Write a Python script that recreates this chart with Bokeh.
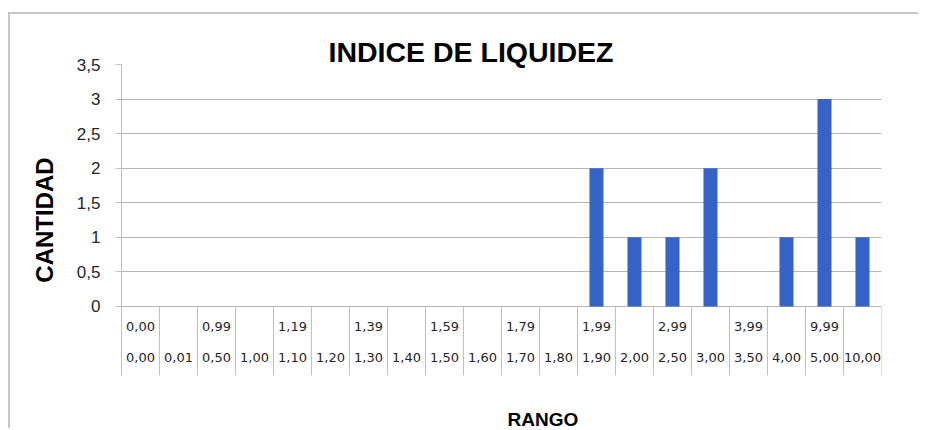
from bokeh.plotting import figure
from bokeh.models import FactorRange, Range1d, FixedTicker, ColumnDataSource, Title
from bokeh.transform import dodge
from bokeh.core.properties import value
from bokeh.embed import file_html
from bokeh.resources import INLINE

# ---- data ----
rango_inf = ["0,00", "0,01", "0,50", "1,00", "1,10", "1,20", "1,30", "1,40", "1,50", "1,60",
             "1,70", "1,80", "1,90", "2,00", "2,50", "3,00", "3,50", "4,00", "5,00", "10,00"]
rango_sup = ["0,00", "", "0,99", "", "1,19", "", "1,39", "", "1,59", "",
             "1,79", "", "1,99", "", "2,99", "", "3,99", "", "9,99", ""]
cantidad = [0, 0, 0, 0, 0, 0, 0, 0, 0, 0, 0, 0, 2, 1, 1, 2, 0, 1, 3, 1]
y_ticks = [0, 0.5, 1, 1.5, 2, 2.5, 3, 3.5]
y_tick_labels = ["0", "0,5", "1", "1,5", "2", "2,5", "3", "3,5"]

title_text = "INDICE DE LIQUIDEZ"
x_title = "RANGO"
y_title = "CANTIDAD"

src = ColumnDataSource(dict(x=rango_inf, y=cantidad, sup=rango_sup))
last_src = ColumnDataSource(dict(x=rango_inf[-1:]))

p = figure(x_range=FactorRange(factors=rango_inf), y_range=Range1d(-1.0, 3.5),
           width=910, height=416, output_backend="svg", toolbar_location=None,
           min_border_left=111, min_border_right=39, min_border_top=50, min_border_bottom=55)
p.styles = {"border-top": "2px solid #c8c8c8", "border-left": "2px solid #c8c8c8",
            "margin-top": "12px", "margin-left": "8px"}
p.outline_line_color = None
p.background_fill_color = "white"
p.border_fill_color = "white"

# title
p.title.text = title_text
p.title.text_font = "Liberation Sans"
p.title.text_font_style = "bold"
p.title.text_font_size = "28.5px"
p.title.text_color = "black"
p.title.align = "left"
p.title.offset = 207
p.title.standoff = -6

# bars
p.vbar(x="x", top="y", width=0.37, source=src, fill_color="#3763c6", line_color=None)

# label table separators
p.segment(x0=dodge("x", -0.5, range=p.x_range), y0=-1.0, x1=dodge("x", -0.5, range=p.x_range), y1=0,
          source=src, line_color="#bfbfbf", line_width=1)
p.segment(x0=dodge("x", 0.5, range=p.x_range), y0=-1.0, x1=dodge("x", 0.5, range=p.x_range), y1=0,
          source=last_src, line_color="#bfbfbf", line_width=1)

# category labels (two rows)
p.text(x="x", y=-0.29, text="sup", source=src, text_font=value("DejaVu Sans"), text_font_size="13px",
       text_align="center", text_baseline="middle", text_color="#262626")
p.text(x="x", y=-0.74, text="x", source=src, text_font=value("DejaVu Sans"), text_font_size="13px",
       text_align="center", text_baseline="middle", text_color="#262626")

# axes
p.xaxis.visible = False
p.xgrid.visible = False
p.ygrid.ticker = FixedTicker(ticks=y_ticks)
p.ygrid.grid_line_color = "#b5b5b5"

ya = p.yaxis[0]
ya.ticker = FixedTicker(ticks=y_ticks)
ya.major_label_overrides = dict(zip(y_ticks, y_tick_labels))
ya.axis_line_color = "#bfbfbf"
ya.major_tick_line_color = "#bfbfbf"
ya.major_tick_out = 6
ya.major_tick_in = 0
ya.minor_tick_line_color = None
ya.major_label_standoff = 15
ya.major_label_text_font = "Liberation Sans"
ya.major_label_text_font_size = "17px"
ya.major_label_text_color = "#262626"
ya.axis_label = y_title
ya.axis_label_text_font = "Liberation Sans"
ya.axis_label_text_font_style = "bold"
ya.axis_label_text_font_size = "24px"
ya.axis_label_text_color = "black"
ya.axis_label_standoff = 16

# spacer panel below the frame, then the x-axis title
spacer = Title(text=" ", text_font_size="2px", text_color="white", standoff=29)
p.add_layout(spacer, "below")
xt = Title(text=x_title, align="left", offset=386, text_font="Liberation Sans", text_font_style="bold",
           text_font_size="19px", text_color="black", standoff=-4)
p.add_layout(xt, "below")

open("out.html", "w").write(file_html(p, INLINE))
